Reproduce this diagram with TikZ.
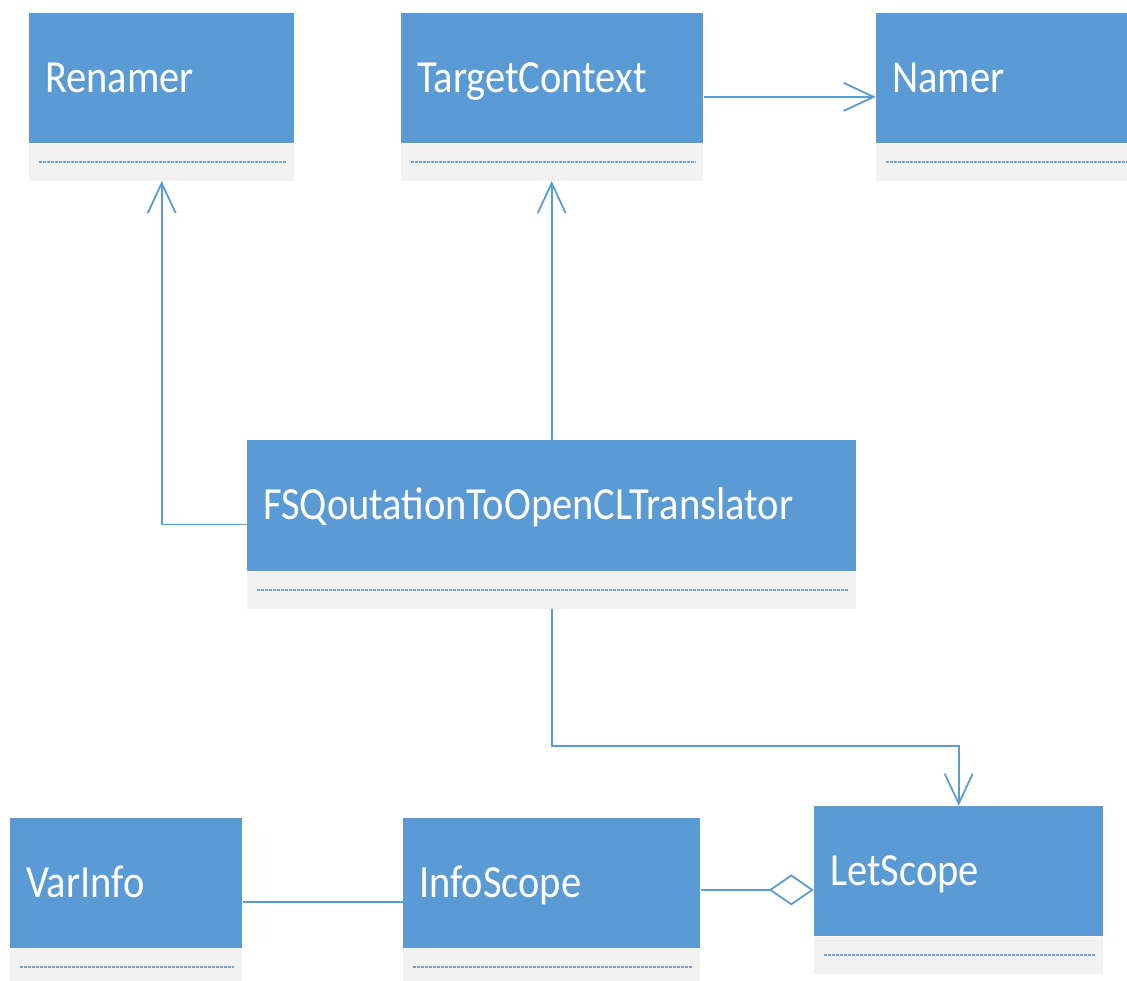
\documentclass[tikz,border=0pt]{standalone}
\usepackage{fontspec}
\usepackage{tikz}
\usetikzlibrary{arrows.meta,fit}
\newfontfamily\classfont[FakeStretch=0.88]{Carlito}
\definecolor{umlblue}{HTML}{5B9BD5}
\definecolor{umlgrey}{HTML}{F2F2F2}
\definecolor{umldots}{HTML}{6FA3D8}
\tikzset{%
    >={Straight Barb[length=30pt,width=28pt]},
    classname/.style={fill=umlblue, text=white, anchor=north west, inner ysep=0pt, inner xsep=16pt,
        minimum height=130pt, text width=#1, text height=32pt, text depth=4pt, align=left,
        font=\classfont\fontsize{46pt}{50pt}\selectfont},
    classops/.style={fill=umlgrey, anchor=north west, inner sep=0pt, minimum height=37pt, minimum width=#1},
    opsline/.style={draw=umldots, line width=1.8pt, dash pattern=on 2.5pt off 1.5pt},
    wrapper/.style={inner sep=0pt},
    assoc/.style={draw=umlblue, line width=1.8pt}
}

\begin{document}
\begin{tikzpicture}[x=1pt,y=-1pt]
        \clip (0,0) rectangle (1127,981);

        % top row
        \node[classname=233pt] (renamer-name) at (29,13) {Renamer};
        \node[classops=265pt] (renamer-ops) at (renamer-name.south west) {};
        \draw[opsline] ([xshift=10pt]renamer-ops.west) -- ([xshift=-8pt]renamer-ops.east);
        \node[wrapper, fit=(renamer-name)(renamer-ops)] (renamer) {};

        \node[classname=270pt] (target-name) at (401,13) {TargetContext};
        \node[classops=302pt] (target-ops) at (target-name.south west) {};
        \draw[opsline] ([xshift=10pt]target-ops.west) -- ([xshift=-8pt]target-ops.east);
        \node[wrapper, fit=(target-name)(target-ops)] (target) {};

        \node[classname=228pt] (namer-name) at (876,13) {Namer};
        \node[classops=260pt] (namer-ops) at (namer-name.south west) {};
        \draw[opsline] ([xshift=10pt]namer-ops.west) -- ([xshift=-8pt]namer-ops.east);
        \node[wrapper, fit=(namer-name)(namer-ops)] (namer) {};

        % translator
        \node[classname=577pt, minimum height=131pt] (fsq-name) at (247,440) {FSQoutationToOpenCLTranslator};
        \node[classops=609pt] (fsq-ops) at (fsq-name.south west) {};
        \draw[opsline] ([xshift=10pt]fsq-ops.west) -- ([xshift=-8pt]fsq-ops.east);
        \node[wrapper, fit=(fsq-name)(fsq-ops)] (fsq) {};

        % scopes
        \node[classname=200pt] (varinfo-name) at (10,818) {VarInfo};
        \node[classops=232pt] (varinfo-ops) at (varinfo-name.south west) {};
        \draw[opsline] ([xshift=10pt]varinfo-ops.west) -- ([xshift=-8pt]varinfo-ops.east);
        \node[wrapper, fit=(varinfo-name)(varinfo-ops)] (varinfo) {};

        \node[classname=265pt] (infoscope-name) at (403,818) {InfoScope};
        \node[classops=297pt] (infoscope-ops) at (infoscope-name.south west) {};
        \draw[opsline] ([xshift=10pt]infoscope-ops.west) -- ([xshift=-8pt]infoscope-ops.east);
        \node[wrapper, fit=(infoscope-name)(infoscope-ops)] (infoscope) {};

        \node[classname=257pt] (letscope-name) at (814,806) {LetScope};
        \node[classops=289pt] (letscope-ops) at (letscope-name.south west) {};
        \draw[opsline] ([xshift=10pt]letscope-ops.west) -- ([xshift=-8pt]letscope-ops.east);
        \node[wrapper, fit=(letscope-name)(letscope-ops)] (letscope) {};

        % associations
        \draw[assoc, ->] (fsq.west) -| (renamer.south);
        \draw[assoc, ->] (fsq.north) -- (fsq.north |- target.south);
        \draw[assoc, ->] (target.east) -- (namer.west);
        \draw[assoc, ->] (fsq.south) -- ++(0,137) -| (letscope.north);
        \draw[assoc] (varinfo.east) -- (infoscope.west);
        \draw[assoc, -{Diamond[length=45pt,width=31pt,fill=white]}] (infoscope.east |- letscope.west) -- (letscope.west);
    \end{tikzpicture}
\end{document}
